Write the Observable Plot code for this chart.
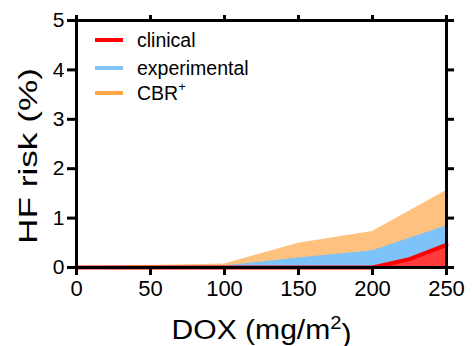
<!DOCTYPE html>
<html>
<head>
<meta charset="utf-8">
<script src="https://cdn.jsdelivr.net/npm/d3@7"></script>
<script src="https://cdn.jsdelivr.net/npm/@observablehq/plot@0.6"></script>
<style>
  html, body { margin: 0; padding: 0; background: #fff; }
  svg { font-family: Arial, "Liberation Sans", sans-serif; }
</style>
</head>
<body>
<div id="chart"></div>
<script>
// Data
const clinicalDose = [0, 50, 100, 150, 200, 225, 250];
const clinicalRisk = [0, 0, 0, 0, 0, 0.17, 0.46];
const expDose = [0, 50, 100, 150, 200, 250];
const expRisk = [0.01, 0.02, 0.03, 0.19, 0.34, 0.84];
const cbrDose = [0, 50, 100, 150, 200, 250];
const cbrRisk = [0.02, 0.04, 0.07, 0.49, 0.73, 1.56];

const xTicks = [0, 50, 100, 150, 200, 250];
const yTicks = [0, 1, 2, 3, 4, 5];

const seriesNames = ["clinical", "experimental", "CBR+"];
const lineColors = ["#ff0000", "#80c4fa", "#ffa845"];
const areaColors = ["#ff3b3b", "#7dc2f8", "#fec17f"];

const toRows = (xs, ys) => xs.map((x, i) => ({x, y: ys[i]}));
const clinical = toRows(clinicalDose, clinicalRisk);
const experimental = toRows(expDose, expRisk);
const cbr = toRows(cbrDose, cbrRisk);

const W = 472, H = 346;
const mL = 76, mR = 26, mT = 20, mB = 79;

const chart = Plot.plot({
  width: W,
  height: H,
  marginLeft: mL,
  marginRight: mR,
  marginTop: mT,
  marginBottom: mB,
  style: {fontFamily: "Arial, 'Liberation Sans', sans-serif", color: "#000", background: "#fff", overflow: "visible"},
  x: {domain: [0, 250]},
  y: {domain: [0, 5]},
  marks: [
    Plot.areaY(cbr, {x: "x", y: "y", fill: areaColors[2]}),
    Plot.areaY(experimental, {x: "x", y: "y", fill: areaColors[1]}),
    Plot.areaY(clinical, {x: "x", y: "y", fill: areaColors[0]}),
    Plot.lineY(clinical, {x: "x", y: "y", stroke: lineColors[0], strokeWidth: 4}),
    Plot.frame({stroke: "#000", strokeWidth: 3}),
    Plot.axisX({anchor: "bottom", ticks: xTicks, tickSize: 8, tickPadding: 5, fontSize: 22, strokeWidth: 3, tickFormat: d3.format("d"), label: null}),
    Plot.axisX({anchor: "top", ticks: xTicks, tickSize: 6, tickFormat: () => "", strokeWidth: 3, label: null}),
    Plot.axisY({anchor: "left", ticks: yTicks, tickSize: 9, tickPadding: 3, fontSize: 21, strokeWidth: 3, tickFormat: d3.format("d"), label: null}),
    Plot.axisY({anchor: "right", ticks: yTicks, tickSize: 7, tickFormat: () => "", strokeWidth: 3, label: null}),
    Plot.text(["DOX (mg/m2)"], {frameAnchor: "bottom", dy: 71, fontSize: 27, lineAnchor: "bottom", text: d => d})
  ]
});

document.getElementById("chart").appendChild(chart);

const svg = d3.select(chart);

// superscript in x label
svg.selectAll("text").filter(function() { return this.textContent === "DOX (mg/m2)"; })
  .each(function() {
    const t = d3.select(this);
    t.text(null);
    t.attr("textLength", 180).attr("lengthAdjust", "spacingAndGlyphs");
    t.append("tspan").text("DOX (mg/m");
    t.append("tspan").attr("font-size", 18).attr("dy", "-0.55em").text("2");
    t.append("tspan").attr("dy", "0.55em").text(")");
  });

// y label (rotated, stretched along its length like the reference)
svg.append("text")
  .attr("transform", "translate(28,156) rotate(-90)")
  .attr("text-anchor", "middle")
  .attr("dy", "0.35em")
  .attr("font-size", 26)
  .attr("fill", "#000")
  .attr("textLength", 176)
  .attr("lengthAdjust", "spacingAndGlyphs")
  .text("HF risk (%)");

// legend
const legX = 95, legLen = 28, legTextX = 137;
const legY = [40, 68, 93];
const leg = svg.append("g").attr("font-size", 19.5).attr("fill", "#000").attr("text-anchor", "start");
seriesNames.forEach((name, i) => {
  leg.append("line")
    .attr("x1", legX).attr("x2", legX + legLen)
    .attr("y1", legY[i]).attr("y2", legY[i])
    .attr("stroke", lineColors[i]).attr("stroke-width", 4);
  const t = leg.append("text").attr("x", legTextX).attr("y", legY[i]).attr("dy", "0.35em");
  if (name.endsWith("+")) {
    t.append("tspan").text(name.slice(0, -1));
    t.append("tspan").attr("font-size", 13).attr("dy", "-0.7em").text("+");
  } else {
    t.text(name);
  }
});
</script>
</body>
</html>
